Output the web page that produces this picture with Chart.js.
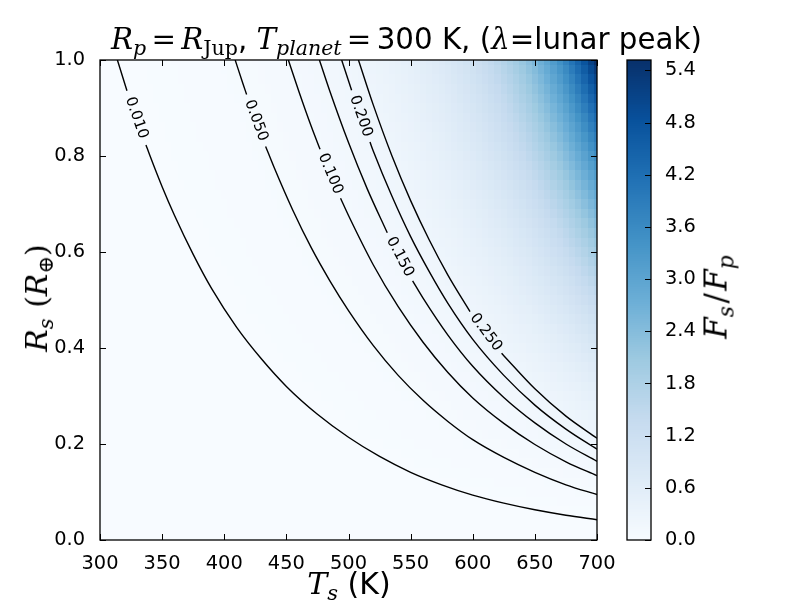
<!DOCTYPE html>
<html>
<head>
<meta charset="utf-8">
<title>Fs/Fp map</title>
<script src="https://cdn.jsdelivr.net/npm/chart.js@4.4.1/dist/chart.umd.min.js"></script>
<style>
  html, body { margin: 0; padding: 0; background: #fff; }
  #wrap { position: relative; width: 800px; height: 600px; overflow: hidden; }
  canvas { position: absolute; left: 0; top: 0; }
  .lbl { position: absolute; white-space: nowrap; font-size: 30px; line-height: 1; color: #000; }
  .sans { font-family: 'DejaVu Sans', sans-serif; }
  .mi { font-family: 'DejaVu Serif', serif; font-style: italic; }
  .mr { font-family: 'DejaVu Serif', serif; font-style: normal; }
  sub { font-size: 0.7em; vertical-align: -0.3em; line-height: 0; }
  .eq { padding: 0 0.18em; }
  .gap { padding-left: 0.35em; }
  .sl { padding: 0 0.08em; }
  .rot { transform: translate(-50%, -50%) rotate(-90deg); }
</style>
</head>
<body>
<div id="wrap">
  <canvas id="main" width="800" height="600"></canvas>
  <canvas id="cbar" width="800" height="600"></canvas>
  <div class="lbl" id="title" style="left:111px; top:25px; font-size:29.3px;"><span class="mi">R</span><sub class="mi">p</sub><span class="mr eq">=</span><span class="mi">R</span><sub class="mr">Jup</sub><span class="sans">, </span><span class="mi">T</span><sub class="mi">planet</sub><span class="mr eq">=</span><span class="sans">300 K, (</span><span class="mi">λ</span><span class="sans">=lunar peak)</span></div>
  <div class="lbl" id="xlabel" style="left:349px; top:569px; transform: translateX(-50%);"><span class="mi">T</span><sub class="mi">s</sub><span class="sans"> (K)</span></div>
  <div class="lbl rot" id="ylabel" style="left:37px; top:298px;"><span class="mi">R</span><sub class="mi">s</sub><span class="mr gap">(</span><span class="mi">R</span><sub class="mr">⊕</sub><span class="mr">)</span></div>
  <div class="lbl rot" id="cblabel" style="left:716px; top:297px; font-size:31px;"><span class="mi">F</span><sub class="mi">s</sub><span class="mr sl">/</span><span class="mi">F</span><sub class="mi">p</sub></div>
</div>
<script>
// ---- data ----

// moon temperature grid (K)
const tsGrid = [
  300, 305, 310, 315, 320, 325, 330, 335, 340, 345,
  350, 355, 360, 365, 370, 375, 380, 385, 390, 395,
  400, 405, 410, 415, 420, 425, 430, 435, 440, 445,
  450, 455, 460, 465, 470, 475, 480, 485, 490, 495,
  500, 505, 510, 515, 520, 525, 530, 535, 540, 545,
  550, 555, 560, 565, 570, 575, 580, 585, 590, 595,
  600, 605, 610, 615, 620, 625, 630, 635, 640, 645,
  650, 655, 660, 665, 670, 675, 680, 685, 690, 695, 700
];
// Fs/Fp along the top edge (Rs = 1.0)
const topRow = [
  0.0079, 0.0086, 0.0093, 0.0102, 0.0111, 0.0121, 0.0131, 0.0143, 0.0156, 0.0170,
  0.0185, 0.0201, 0.0219, 0.0239, 0.0260, 0.0283, 0.0308, 0.0336, 0.0365, 0.0398,
  0.0433, 0.0470, 0.0509, 0.0552, 0.0599, 0.0650, 0.0704, 0.0764, 0.0828, 0.0898,
  0.0974, 0.1056, 0.1145, 0.1242, 0.1347, 0.1460, 0.1583, 0.1717, 0.1860, 0.2017,
  0.2187, 0.2376, 0.2580, 0.2803, 0.3045, 0.3306, 0.3592, 0.3902, 0.4240, 0.4603,
  0.5001, 0.5433, 0.5898, 0.6408, 0.6963, 0.7558, 0.8212, 0.8923, 0.9685, 1.052,
  1.143, 1.237, 1.339, 1.451, 1.570, 1.699, 1.840, 1.992, 2.155, 2.333,
  2.527, 2.735, 2.959, 3.206, 3.470, 3.755, 4.067, 4.402, 4.764, 5.160, 5.520
];
// moon radius grid (Earth radii)
const rsGrid = [
  0.00, 0.02, 0.04, 0.06, 0.08, 0.10, 0.12, 0.14, 0.16, 0.18,
  0.20, 0.22, 0.24, 0.26, 0.28, 0.30, 0.32, 0.34, 0.36, 0.38,
  0.40, 0.42, 0.44, 0.46, 0.48, 0.50, 0.52, 0.54, 0.56, 0.58,
  0.60, 0.62, 0.64, 0.66, 0.68, 0.70, 0.72, 0.74, 0.76, 0.78,
  0.80, 0.82, 0.84, 0.86, 0.88, 0.90, 0.92, 0.94, 0.96, 0.98, 1.00
];
// fraction of the top-edge value down each column (read along the right edge)
const rsShape = [
  0.0000, 0.0004, 0.0016, 0.0036, 0.0064, 0.0100, 0.0144, 0.0196, 0.0256, 0.0324,
  0.0400, 0.0484, 0.0576, 0.0676, 0.0784, 0.0900, 0.1024, 0.1156, 0.1296, 0.1444,
  0.1600, 0.1764, 0.1936, 0.2116, 0.2304, 0.2500, 0.2704, 0.2916, 0.3136, 0.3364,
  0.3600, 0.3844, 0.4096, 0.4356, 0.4624, 0.4900, 0.5184, 0.5476, 0.5776, 0.6084,
  0.6400, 0.6724, 0.7056, 0.7396, 0.7744, 0.8100, 0.8464, 0.8836, 0.9216, 0.9604, 1.0000
];

// contour lines [Ts, Rs], split where the label sits
const contourLevels = ['0.010', '0.050', '0.100', '0.150', '0.200', '0.250'];
const c010 = [
  [[314, 1.0], [320, 0.950], [321.7, 0.936]],
  [[337, 0.823], [340, 0.802], [350, 0.736], [360, 0.676], [375, 0.595], [390, 0.523],
   [410, 0.443], [430, 0.377], [450, 0.320], [475, 0.262], [500, 0.214], [525, 0.174],
   [550, 0.141], [575, 0.115], [600, 0.0935], [625, 0.0767], [650, 0.0629], [675, 0.0516], [700, 0.0423]]
];
const c050 = [
  [[408.8, 1.0], [415, 0.951], [418, 0.928]],
  [[433.3, 0.820], [440, 0.777], [455, 0.688], [470, 0.609], [485, 0.540], [500, 0.478],
   [520, 0.405], [540, 0.343], [560, 0.291], [580, 0.247], [600, 0.209], [625, 0.172],
   [650, 0.141], [675, 0.115], [700, 0.0946]]
];
const c100 = [
  [[451.6, 1.0], [460, 0.935], [470, 0.862], [477.1, 0.814]],
  [[493.6, 0.712], [500, 0.676], [520, 0.573], [540, 0.486], [560, 0.412], [580, 0.349],
   [600, 0.296], [625, 0.243], [650, 0.199], [675, 0.163], [700, 0.134]]
];
const c150 = [
  [[476.6, 1.0], [485, 0.935], [500, 0.828], [515, 0.732], [531.2, 0.640]],
  [[551.6, 0.540], [560, 0.504], [580, 0.427], [600, 0.362], [625, 0.297], [650, 0.244],
   [675, 0.200], [700, 0.164]]
];
const c200 = [
  [[494.5, 1.0], [502.5, 0.937]],
  [[517.3, 0.829], [520, 0.810], [535, 0.716], [550, 0.632], [565, 0.559], [580, 0.493],
   [600, 0.418], [625, 0.343], [650, 0.281], [675, 0.231], [700, 0.189]]
];
const c250 = [
  [[508, 1.0], [520, 0.906], [535, 0.800], [550, 0.707], [565, 0.625], [580, 0.552], [597.8, 0.476]],
  [[623.2, 0.389], [625, 0.384], [650, 0.315], [675, 0.258], [700, 0.212]]
];
const contourPaths = [c010, c050, c100, c150, c200, c250];

// tick labels
const tsTicks = [300, 350, 400, 450, 500, 550, 600, 650, 700];
const rsTicks = [0.0, 0.2, 0.4, 0.6, 0.8, 1.0];
const cbTicks = [0.0, 0.6, 1.2, 1.8, 2.4, 3.0, 3.6, 4.2, 4.8, 5.4];
const cbMax = 5.52;

// ---- colour map (matplotlib Blues) ----
const bluesStops = [
  [247, 251, 255], [222, 235, 247], [198, 219, 239], [158, 202, 225], [107, 174, 214],
  [66, 146, 198], [33, 113, 181], [8, 81, 156], [8, 48, 107]
];
function blues(t) {
  t = Math.min(1, Math.max(0, t));
  const p = t * (bluesStops.length - 1);
  const i = Math.min(Math.floor(p), bluesStops.length - 2);
  const f = p - i;
  const a = bluesStops[i], b = bluesStops[i + 1];
  const c = a.map((v, k) => Math.round(v + (b[k] - v) * f));
  return `rgb(${c[0]},${c[1]},${c[2]})`;
}

Chart.defaults.font.family = "'DejaVu Sans', sans-serif";
Chart.defaults.font.size = 19.4;
Chart.defaults.color = '#000';

// inward ticks + black frame, matplotlib style
function drawFrame(ctx, area, scales, sides) {
  ctx.save();
  ctx.strokeStyle = '#000';
  ctx.lineWidth = 1;
  const len = 6;
  if (sides.x) {
    scales.x.ticks.forEach(t => {
      const px = Math.round(scales.x.getPixelForValue(t.value)) + 0.5;
      ctx.beginPath();
      ctx.moveTo(px, area.bottom); ctx.lineTo(px, area.bottom - len);
      ctx.moveTo(px, area.top); ctx.lineTo(px, area.top + len);
      ctx.stroke();
    });
  }
  scales.y.ticks.forEach(t => {
    const py = Math.round(scales.y.getPixelForValue(t.value)) + 0.5;
    ctx.beginPath();
    if (sides.left) { ctx.moveTo(area.left, py); ctx.lineTo(area.left + len, py); }
    ctx.moveTo(area.right, py); ctx.lineTo(area.right - len, py);
    ctx.stroke();
  });
  ctx.lineWidth = 1.3;
  ctx.strokeRect(area.left, area.top, area.right - area.left, area.bottom - area.top);
  ctx.restore();
}

const heatmapPlugin = {
  id: 'heatmap',
  beforeDatasetsDraw(chart) {
    const { ctx, chartArea: area, scales: { x, y } } = chart;
    const dT = tsGrid[1] - tsGrid[0];
    const dR = rsGrid[1] - rsGrid[0];
    ctx.save();
    ctx.beginPath();
    ctx.rect(area.left, area.top, area.right - area.left, area.bottom - area.top);
    ctx.clip();
    tsGrid.forEach((ts, i) => {
      const x0 = Math.round(x.getPixelForValue(ts - dT / 2));
      const x1 = Math.round(x.getPixelForValue(ts + dT / 2));
      rsGrid.forEach((rs, j) => {
        const y0 = Math.round(y.getPixelForValue(rs + dR / 2));
        const y1 = Math.round(y.getPixelForValue(rs - dR / 2));
        ctx.fillStyle = blues(topRow[i] * rsShape[j] / cbMax);
        ctx.fillRect(x0, y0, x1 - x0, y1 - y0);
      });
    });
    ctx.restore();
  }
};

const contourLabelPlugin = {
  id: 'contourLabels',
  afterDatasetsDraw(chart) {
    const { ctx, scales: { x, y } } = chart;
    ctx.save();
    ctx.fillStyle = '#000';
    ctx.font = "15px 'DejaVu Sans', sans-serif";
    ctx.textAlign = 'center';
    ctx.textBaseline = 'middle';
    contourPaths.forEach(([a, b], k) => {
      const p = a[a.length - 1], q = b[0];
      const px = x.getPixelForValue(p[0]), py = y.getPixelForValue(p[1]);
      const qx = x.getPixelForValue(q[0]), qy = y.getPixelForValue(q[1]);
      ctx.save();
      ctx.translate((px + qx) / 2, (py + qy) / 2);
      ctx.rotate(Math.atan2(qy - py, qx - px));
      ctx.fillText(contourLevels[k], 0, 0);
      ctx.restore();
    });
    ctx.restore();
  }
};

const framePlugin = {
  id: 'frame',
  afterDraw(chart) {
    drawFrame(chart.ctx, chart.chartArea, chart.scales, { x: true, left: true });
  }
};

const datasets = [];
contourPaths.forEach(path => {
  path.forEach(seg => {
    datasets.push({
      data: seg.map(([t, r]) => ({ x: t, y: r })),
      borderColor: '#000',
      borderWidth: 1.4,
      pointRadius: 0,
      fill: false,
      cubicInterpolationMode: 'monotone'
    });
  });
});

new Chart(document.getElementById('main'), {
  type: 'line',
  data: { datasets },
  options: {
    responsive: false,
    animation: false,
    devicePixelRatio: 1,
    layout: { padding: { left: 40, right: 203, top: 60, bottom: 20 } },
    plugins: { legend: { display: false }, tooltip: { enabled: false } },
    scales: {
      x: {
        type: 'linear', min: 300, max: 700,
        grid: { display: false }, border: { display: false },
        afterBuildTicks: axis => { axis.ticks = tsTicks.map(v => ({ value: v })); },
        ticks: { padding: 4, maxRotation: 0, autoSkip: false, callback: v => String(v) },
        afterFit: s => { s.height = 40; }
      },
      y: {
        type: 'linear', min: 0, max: 1,
        grid: { display: false }, border: { display: false },
        afterBuildTicks: axis => { axis.ticks = rsTicks.map(v => ({ value: v })); },
        ticks: { padding: 7, autoSkip: false, callback: v => v.toFixed(1) },
        afterFit: s => { s.width = 60; }
      }
    }
  },
  plugins: [heatmapPlugin, contourLabelPlugin, framePlugin]
});

// ---- colour bar ----
const colorbarPlugin = {
  id: 'colorbar',
  beforeDatasetsDraw(chart) {
    const { ctx, chartArea: area, scales: { y } } = chart;
    const n = 256;
    for (let k = 0; k < n; k++) {
      const top = Math.floor(y.getPixelForValue(cbMax * (k + 1) / n));
      const bot = Math.ceil(y.getPixelForValue(cbMax * k / n));
      ctx.fillStyle = blues((k + 0.5) / n);
      ctx.fillRect(area.left, top, area.right - area.left, bot - top);
    }
  },
  afterDraw(chart) {
    drawFrame(chart.ctx, chart.chartArea, chart.scales, { x: false, left: false });
  }
};

new Chart(document.getElementById('cbar'), {
  type: 'bar',
  data: { labels: [''], datasets: [] },
  options: {
    responsive: false,
    animation: false,
    devicePixelRatio: 1,
    layout: { padding: { left: 627, right: 89, top: 60, bottom: 60 } },
    plugins: { legend: { display: false }, tooltip: { enabled: false } },
    scales: {
      x: { display: false },
      y: {
        position: 'right', min: 0, max: cbMax,
        grid: { display: false }, border: { display: false },
        afterBuildTicks: axis => { axis.ticks = cbTicks.map(v => ({ value: v })); },
        ticks: { padding: 6, autoSkip: false, callback: v => v.toFixed(1) },
        afterFit: s => { s.width = 60; }
      }
    }
  },
  plugins: [colorbarPlugin]
});
</script>
</body>
</html>
